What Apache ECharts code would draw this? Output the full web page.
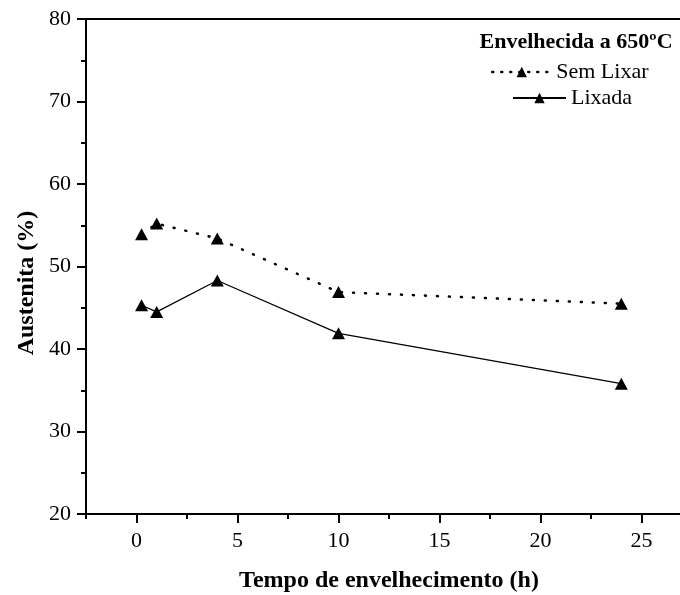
<!DOCTYPE html>
<html>
<head>
<meta charset="utf-8">
<script src="https://cdn.jsdelivr.net/npm/echarts@6/dist/echarts.min.js"></script>
<style>html,body{margin:0;padding:0;background:#fff}#c{width:680px;height:595px}</style>
</head>
<body>
<div id="c"></div>
<script>
var hours = [0.25, 1, 4, 10, 24];
var semLixar = [53.9, 55.2, 53.4, 46.9, 45.5];
var lixada = [45.3, 44.5, 48.3, 41.9, 35.8];
var xMajorTicks = [0, 5, 10, 15, 20, 25];
var xMinorTicks = [-2.5, 2.5, 7.5, 12.5, 17.5, 22.5];
var seriesNames = ['Sem Lixar', 'Lixada'];
var legendTitle = 'Envelhecida a 650ºC';
var xTitle = 'Tempo de envelhecimento (h)';
var yTitle = 'Austenita (%)';

var FONT = '"Liberation Serif", "Times New Roman", serif';
function pairs(xs, ys) { return xs.map(function (x, i) { return [x, ys[i]]; }); }

var chart = echarts.init(document.getElementById('c'), null, { renderer: 'canvas' });
var gridBox = { left: 86, right: -12, top: 19, bottom: 81, show: true, borderColor: '#000', borderWidth: 2, backgroundColor: 'transparent', containLabel: false, outerBoundsMode: 'none' };
chart.setOption({
  animation: false,
  backgroundColor: '#fff',
  grid: gridBox,
  xAxis: [{
    type: 'value', min: -2.5, max: 27.5, interval: 2.5,
    name: xTitle, nameLocation: 'middle', nameGap: 55,
    nameTextStyle: { fontFamily: FONT, fontWeight: 'bold', fontSize: 24, color: '#000' },
    axisLine: { onZero: false, lineStyle: { color: '#000', width: 2 } },
    axisTick: { show: true, inside: false, length: 9, lineStyle: { width: 2, color: '#000' }, customValues: xMajorTicks },
    axisLabel: { fontFamily: FONT, fontSize: 22, color: '#000', margin: 16, customValues: xMajorTicks },
    splitLine: { show: false }
  }, {
    type: 'value', min: -2.5, max: 27.5, interval: 2.5, position: 'bottom',
    axisLine: { show: false, onZero: false },
    axisTick: { show: true, length: 5, lineStyle: { width: 2, color: '#000' }, customValues: xMinorTicks },
    axisLabel: { show: false },
    splitLine: { show: false }
  }],
  yAxis: {
    type: 'value', min: 20, max: 80, interval: 10,
    axisLine: { show: true, onZero: false, lineStyle: { color: '#000', width: 2 } },
    axisTick: { show: true, length: 9, lineStyle: { width: 2, color: '#000' } },
    minorTick: { show: true, splitNumber: 2, length: 5, lineStyle: { width: 2, color: '#000' } },
    axisLabel: { fontFamily: FONT, fontSize: 22, color: '#000', margin: 15 },
    splitLine: { show: false }
  },
  legend: [{
    data: [seriesNames[0]], left: 491, top: 61, padding: 0, orient: 'vertical',
    itemWidth: 59, itemHeight: 13,
    textStyle: { fontFamily: FONT, fontSize: 22, color: '#000' },
    lineStyle: { type: [1, 8], width: 2.5, cap: 'round' }
  }, {
    data: [seriesNames[1]], left: 512, top: 87, padding: 0, orient: 'vertical',
    itemWidth: 53, itemHeight: 13,
    textStyle: { fontFamily: FONT, fontSize: 22, color: '#000' }
  }],
  graphic: [{
    type: 'text', x: 576, y: 42,
    style: { text: legendTitle, fontFamily: FONT, fontWeight: 'bold', fontSize: 22, fill: '#000', textAlign: 'center', textVerticalAlign: 'middle' }
  }, {
    type: 'text', x: 27, y: 283, rotation: Math.PI / 2,
    style: { text: yTitle, fontFamily: FONT, fontWeight: 'bold', fontSize: 24, fill: '#000', textAlign: 'center', textVerticalAlign: 'middle' }
  }],
  series: [{
    name: seriesNames[0], type: 'line', data: pairs(hours, semLixar),
    symbol: 'triangle', symbolSize: [13, 12], showSymbol: true,
    itemStyle: { color: '#000' },
    lineStyle: { color: '#000', width: 2.5, type: [1, 11], cap: 'round' }
  }, {
    name: seriesNames[1], type: 'line', data: pairs(hours, lixada),
    symbol: 'triangle', symbolSize: [13, 12], showSymbol: true,
    itemStyle: { color: '#000' },
    lineStyle: { color: '#000', width: 1.2, type: 'solid' }
  }]
});
</script>
</body>
</html>
